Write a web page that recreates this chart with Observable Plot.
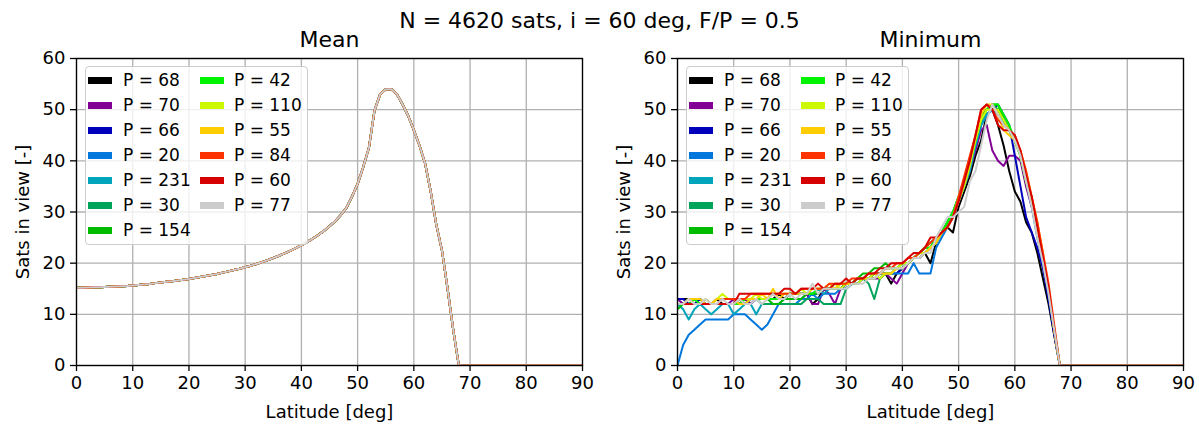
<!DOCTYPE html>
<html><head><meta charset="utf-8">
<script src="https://cdn.jsdelivr.net/npm/d3@7"></script>
<script src="https://cdn.jsdelivr.net/npm/@observablehq/plot@0.6"></script>
<style>
body{margin:0;background:#fff;}
#fig{position:relative;width:1199px;height:425px;font-family:"DejaVu Sans",sans-serif;color:#000;background:#fff;}
#fig svg{position:absolute;top:0;}
.sup{position:absolute;left:0;width:1199px;text-align:center;font-size:22px;line-height:22px;top:10px;white-space:nowrap;}
.legend{position:absolute;border:1px solid #cccccc;border-radius:4px;background:rgba(255,255,255,0.8);box-sizing:border-box;}
.item{position:absolute;font-size:17px;line-height:17px;white-space:nowrap;}
.sw{position:absolute;width:24px;height:7px;}
</style></head><body><div id="fig"></div><script>
// ---- data ----
const suptitle = "N = 4620 sats, i = 60 deg, F/P = 0.5";
const panelTitles = ["Mean", "Minimum"];
const labels = ["P = 68","P = 70","P = 66","P = 20","P = 231","P = 30","P = 154","P = 42","P = 110","P = 55","P = 84","P = 60","P = 77"];
const colors = ["#000000","#820093","#0000bb","#0077dd","#00a4bb","#00a45b","#00bb00","#00f400","#ccf900","#ffcc00","#ff3300","#d70000","#cccccc"];
const xTicks = [0,10,20,30,40,50,60,70,80,90];
const yTicks = [0,10,20,30,40,50,60];
const lat = [0,1,2,3,4,5,6,7,8,9,10,11,12,13,14,15,16,17,18,19,20,21,22,23,24,25,26,27,28,29,30,31,32,33,34,35,36,37,38,39,40,41,42,43,44,45,46,47,48,49,50,51,52,53,54,55,56,57,58,59,60,61,62,63,64,65,66,67,68,90];
const meanValues = [15.2,15.2,15.25,15.3,15.3,15.35,15.4,15.45,15.5,15.55,
 15.65,15.75,15.85,15.95,16.1,16.2,16.35,16.45,16.6,16.75,
 16.9,17.1,17.3,17.5,17.7,17.9,18.15,18.4,18.65,18.9,
 19.2,19.5,19.85,20.2,20.6,21.0,21.45,21.9,22.4,22.95,
 23.5,24.1,24.8,25.5,26.3,27.2,28.2,29.4,30.8,33.0,
 35.5,38.8,42.5,49.8,53.0,54.0,54.0,53.0,51.0,48.8,
 46,43,39.5,34,27.5,22.5,15,7,0, 0];
const minP68 = [13,13,13,13,13,12,12,13,12,12, 12,13,12,13,13,13,13,13,14,13, 14,14,14,14,12,13,15,15,15,15, 16,16,17,17,17,18,18,18,16,18, 19,20,21,22,22,20,24,26,27,26, 31,34,37,41,44,49,50,47,43,38, 34,32,28,26,22,17,12,6,0, 0];
const minP70 = [13,12,12,13,12,12,12,12,12,12, 13,12,13,12,13,13,13,13,13,13, 13,13,13,14,12,12,15,14,12,15, 15,16,16,17,17,17,17,18,17,16, 18,20,21,21,22,23,24,26,27,29, 32,35,38,42,46,47,42,40,39,41, 41,40,35,31,26,20,14,7,0, 0];
const minP66 = [13,13,12,12,13,12,12,12,12,12, 12,12,12,12,13,13,13,13,13,13, 14,14,14,14,14,14,15,15,15,15, 16,16,17,17,17,18,18,18,18,18, 19,20,21,21,22,23,24,26,27,29, 32,35,39,43,47,49,50,51,49,47, 41,35,29,26,23,19,13,6,0, 0];
const minP20 = [0,4,6,7,8,9,9,9,9,9, 10,10,10,9,8,7,8,10,12,12, 12,12,13,13,14,13,14,14,14,15, 15,16,16,17,17,17,18,18,18,18, 18,18,20,18,18,18,23,25,27,29, 32,35,39,43,47,49,50,49,47,46, 44,41,36,31,25,20,14,7,0, 0];
const minP231 = [12,11,9,11,12,11,10,11,12,12, 10,11,12,12,10,12,12,12,12,13, 13,13,13,14,14,15,14,15,15,15, 15,16,16,17,17,17,18,18,18,19, 19,20,21,21,22,23,24,26,28,30, 32,35,38,43,47,49,50,50,48,46, 44,41,36,32,26,21,15,7,0, 0];
const minP30 = [12,12,12,12,12,12,12,12,12,12, 12,12,12,13,13,12,12,12,12,12, 12,12,12,13,13,13,12,12,12,12, 15,16,17,17,16,13,17,18,18,19, 19,20,21,22,23,23,25,26,28,30, 33,36,40,44,48,50,51,50,48,46, 44,41,36,32,27,21,15,7,0, 0];
const minP154 = [11,12,12,12,12,12,12,12,12,12, 12,12,13,13,13,13,13,12,12,13, 13,13,13,14,14,14,15,15,15,15, 16,16,17,18,18,19,19,20,19,19, 20,20,21,22,23,24,25,26,28,30, 33,36,40,44,49,50,51,51,48,46, 44,41,36,32,26,21,15,7,0, 0];
const minP42 = [12,12,12,13,12,12,12,12,12,12, 12,12,13,13,13,13,13,13,13,13, 14,14,14,14,14,15,15,15,15,16, 16,16,17,17,17,18,18,19,19,19, 20,20,21,22,23,23,25,26,28,30, 33,36,40,44,48,50,51,51,49,47, 44,41,36,32,26,21,15,7,0, 0];
const minP110 = [12,12,13,12,12,13,12,13,14,13, 13,13,13,13,14,13,13,14,14,14, 14,14,15,14,15,15,15,15,16,15, 16,16,16,17,17,18,17,18,18,19, 20,20,21,22,22,23,24,26,27,29, 32,35,39,44,48,50,50,50,48,46, 44,41,36,32,26,21,15,7,0, 0];
const minP55 = [12,12,13,13,13,12,12,13,13,13, 13,12,12,13,13,14,13,15,13,14, 14,14,14,14,15,15,15,16,15,16, 16,16,17,17,17,17,18,18,18,19, 19,20,21,21,22,23,24,26,27,29, 33,36,40,45,49,51,51,49,46,45, 44,42,38,33,28,22,15,7,0, 0];
const minP84 = [12,12,12,12,12,12,12,12,13,13, 13,13,13,14,14,14,14,14,14,14, 14,14,15,15,15,15,15,16,16,16, 16,17,17,17,18,18,18,19,19,20, 20,21,21,22,23,24,25,26,27,29, 33,37,41,45,50,51,50,48,47,46, 45,42,38,33,28,22,16,8,0, 0];
const minP60 = [12,12,12,12,12,12,12,12,12,12, 12,14,14,14,14,14,14,14,14,15, 15,14,15,15,15,16,15,15,16,16, 17,16,17,17,18,18,19,19,20,20, 20,21,22,22,23,25,25,26,27,29, 32,36,40,45,50,51,50,47,46,46, 45,42,37,33,27,21,15,7,0, 0];
const minP77 = [12,12,13,12,12,13,12,12,13,12, 12,13,12,12,13,12,13,14,13,13, 14,13,14,14,16,14,15,15,15,15, 15,16,16,16,17,17,18,19,19,19, 19,20,21,21,22,22,25,27,29,29, 30,31,36,38,43,48,51,49,47,46, 44,41,36,31,25,20,14,7,0, 0];
const minSeries = [minP68,minP70,minP66,minP20,minP231,minP30,minP154,minP42,minP110,minP55,minP84,minP60,minP77];
const meanSeries = labels.map(() => meanValues);

// ---- drawing ----
const fig = document.getElementById("fig");
const FONT = "DejaVu Sans, sans-serif";
const sup = document.createElement("div");
sup.className = "sup"; sup.textContent = suptitle;
fig.appendChild(sup);

function panel(title, series, left, width, mL, mR) {
  const data = [];
  labels.forEach((lab, k) => series[k].forEach((v, i) => data.push({P: lab, lat: lat[i], v})));
  const svg = Plot.plot({
    width, height: 425, marginLeft: mL, marginRight: mR, marginTop: 58, marginBottom: 60,
    style: {fontFamily: FONT, fontSize: "18px", color: "#000", background: "transparent", overflow: "visible"},
    x: {domain: [0, 90]},
    y: {domain: [0, 60]},
    color: {domain: labels, range: colors},
    marks: [
      Plot.gridX(xTicks, {stroke: "#b0b0b0", strokeOpacity: 1, strokeWidth: 1.3}),
      Plot.gridY(yTicks, {stroke: "#b0b0b0", strokeOpacity: 1, strokeWidth: 1.3}),
      Plot.line(data, {x: "lat", y: "v", z: "P", stroke: "P", strokeWidth: 2, clip: true}),
      Plot.frame({stroke: "#000", strokeWidth: 1.3}),
      Plot.axisX(xTicks, {tickSize: 6, tickPadding: 5, fontSize: 18, strokeWidth: 1.3, label: "Latitude [deg]", labelAnchor: "center", labelArrow: "none", labelOffset: 52}),
      Plot.axisY(yTicks, {tickSize: 6, tickPadding: 5, fontSize: 18, strokeWidth: 1.3, label: "Sats in view [-]", labelAnchor: "center", labelArrow: "none", labelOffset: 60}),
      Plot.text([title], {text: d => d, frameAnchor: "top", dy: -12, lineAnchor: "bottom", fontSize: 22})
    ]
  });
  svg.style.left = left + "px";
  fig.appendChild(svg);

  const lg = document.createElement("div");
  lg.className = "legend";
  lg.style.left = (left + mL + 9) + "px";
  lg.style.top = "66px";
  lg.style.width = "223px";
  lg.style.height = "179px";
  labels.forEach((lab, k) => {
    const col = k < 7 ? 0 : 1, row = k < 7 ? k : k - 7;
    const cy = 14.7 + row * 24.9;
    const sw = document.createElement("div");
    sw.className = "sw";
    sw.style.background = colors[k];
    sw.style.left = (col ? 114 : 2) + "px";
    sw.style.top = (cy - 3.5 - 1) + "px";
    lg.appendChild(sw);
    const it = document.createElement("div");
    it.className = "item";
    it.textContent = lab;
    it.style.left = (col ? 148 : 37) + "px";
    it.style.top = (cy - 8.5 - 1) + "px";
    lg.appendChild(it);
  });
  fig.appendChild(lg);
}
panel(panelTitles[0], meanSeries, 0, 600, 76, 18);
panel(panelTitles[1], minSeries, 600, 599, 77, 16);
</script></body></html>
